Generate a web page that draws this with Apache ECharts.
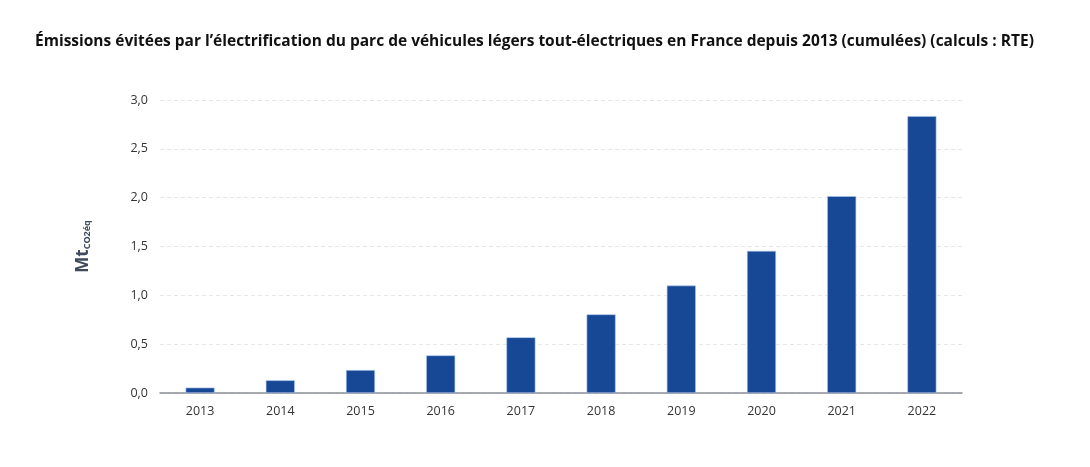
<!DOCTYPE html>
<html>
<head>
<meta charset="utf-8">
<script src="https://cdn.jsdelivr.net/npm/echarts@6/dist/echarts.min.js"></script>
<style>
html, body { margin: 0; padding: 0; background: #fff; }
#chart { width: 1090px; height: 467px; }
</style>
</head>
<body>
<div id="chart"></div>
<script>
// années
var annees = ['2013', '2014', '2015', '2016', '2017', '2018', '2019', '2020', '2021', '2022'];
// émissions évitées cumulées (MtCO2éq)
var emissions = [0.055, 0.13, 0.235, 0.385, 0.57, 0.805, 1.10, 1.455, 2.015, 2.835];

var chart = echarts.init(document.getElementById('chart'));
var option = {
	title : {
		text : 'Émissions évitées par l\u2019électrification du parc de véhicules légers tout-électriques en France depuis 2013 (cumulées) (calculs : RTE)',
		left : 30,
		top : 29,
		textStyle : {
			fontFamily : 'Open Sans',
			fontSize : 15.5,
			fontWeight : 'bold',
			color : '#111'
		}
	},
	grid : {
		left : 160,
		right : 128,
		top : 100,
		bottom : 74
	},
	xAxis : {
		type : 'category',
		data : annees,
		axisTick : { show : false },
		axisLine : { lineStyle : { color : '#8a8f96', width : 1.5 } },
		axisLabel : {
			color : '#333',
			fontFamily : 'Open Sans',
			fontSize : 12.5,
			margin : 12
		}
	},
	yAxis : {
		type : 'value',
		min : 0,
		max : 3,
		interval : 0.5,
		name : '{a|Mt}{b|CO2éq}',
		nameLocation : 'middle',
		nameRotate : 90,
		nameGap : 68,
		nameTextStyle : {
			fontWeight : 'bold',
			fontFamily : 'Open Sans',
			color : '#3d4b5c',
			rich : {
				a : { fontFamily : 'Open Sans', fontSize : 17, fontWeight : 'bold', color : '#3d4b5c' },
				b : { fontFamily : 'Open Sans', fontSize : 9, fontWeight : 'bold', color : '#3d4b5c', verticalAlign : 'bottom', padding : [9, 0, 0, 0] }
			}
		},
		axisLabel : {
			color : '#333',
			fontFamily : 'Open Sans',
			fontSize : 12.5,
			margin : 12,
			formatter : function (v) { return v.toFixed(1).replace('.', ','); }
		},
		splitLine : { lineStyle : { color : '#e6e6e6', type : [4, 3] } }
	},
	series : [ {
		type : 'bar',
		data : emissions,
		barWidth : 29,
		itemStyle : {
			color : '#174896',
			borderColor : '#a9c4ec',
			borderWidth : 0.6
		}
	} ]
};
chart.setOption(option);
</script>
</body>
</html>
